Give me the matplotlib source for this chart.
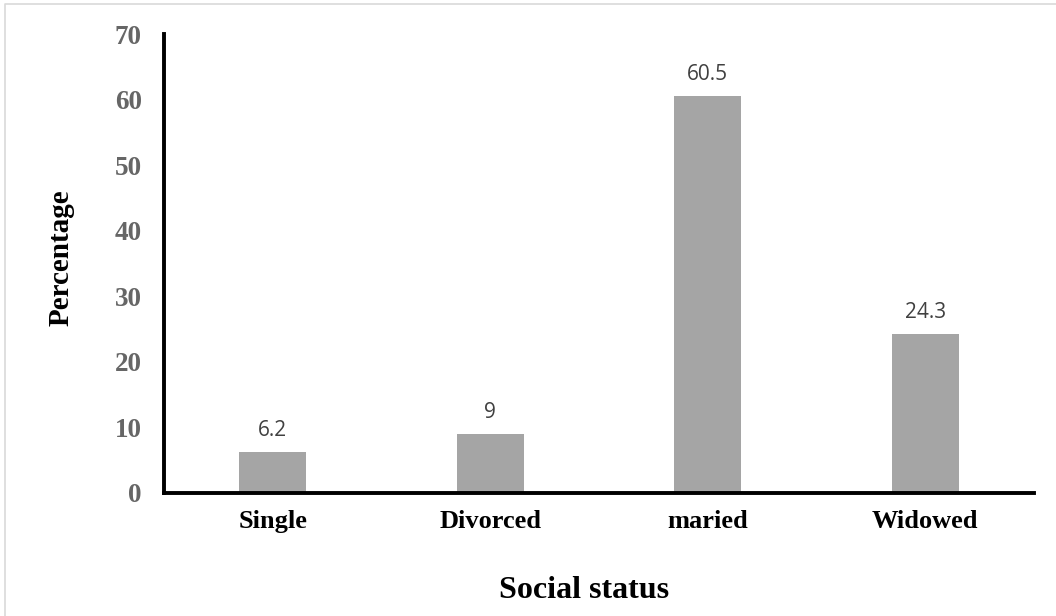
import matplotlib
matplotlib.use("Agg")
import matplotlib.pyplot as plt
from matplotlib.lines import Line2D

# Social status distribution (percent)
categories = ["Single", "Divorced", "maried", "Widowed"]
values = [6.2, 9, 60.5, 24.3]
value_labels = ["6.2", "9", "60.5", "24.3"]
y_ticks = [0, 10, 20, 30, 40, 50, 60, 70]

W, H = 1056, 616
fig = plt.figure(figsize=(W / 100, H / 100), dpi=100)
fig.patch.set_facecolor("white")

# light frame around the chart area
fig.add_artist(Line2D([5 / W, 5 / W, 1.01], [-0.01, 1 - 4 / H, 1 - 4 / H],
                      transform=fig.transFigure, color="#d9d9d9", lw=1.2))

left, right = 164 / W, 1034 / W
bottom, top = 1 - 493 / H, 1 - 34 / H
ax = fig.add_axes([left, bottom, right - left, top - bottom])

x = list(range(len(categories)))
ax.bar(x, values, width=0.31, color="#a5a5a5", zorder=2)

for xi, v, lab in zip(x, values, value_labels):
    ax.annotate(lab, (xi, v), xytext=(0, 11.5), textcoords="offset points",
                ha="center", va="baseline", fontsize=15,
                family="Open Sans", color="#404040")

ax.set_xlim(-0.5, 3.5)
ax.set_ylim(0, 70)
ax.set_yticks(y_ticks)
ax.set_xticks(x)
ax.set_xticklabels(categories)

for s in ["top", "right"]:
    ax.spines[s].set_visible(False)
for s in ["left", "bottom"]:
    ax.spines[s].set_linewidth(2.8)
    ax.spines[s].set_color("black")
    ax.spines[s].set_capstyle("projecting")

ax.tick_params(axis="both", length=0)
ax.tick_params(axis="y", pad=16)
ax.tick_params(axis="x", pad=12)
for t in ax.get_yticklabels():
    t.set_fontfamily("Liberation Serif")
    t.set_fontweight("bold")
    t.set_fontsize(19.5)
    t.set_color("#666666")
for t in ax.get_xticklabels():
    t.set_fontfamily("Liberation Serif")
    t.set_fontweight("bold")
    t.set_fontsize(19)
    t.set_color("black")

fig.text(584 / W, 1 - 590 / H, "Social status", ha="center", va="center",
         family="Liberation Serif", fontweight="bold", fontsize=23)
fig.text(61 / W, 1 - 258 / H, "Percentage", ha="center", va="center",
         rotation=90, family="Liberation Serif", fontweight="bold", fontsize=21)

fig.savefig("out.png", dpi=100, facecolor="white")
